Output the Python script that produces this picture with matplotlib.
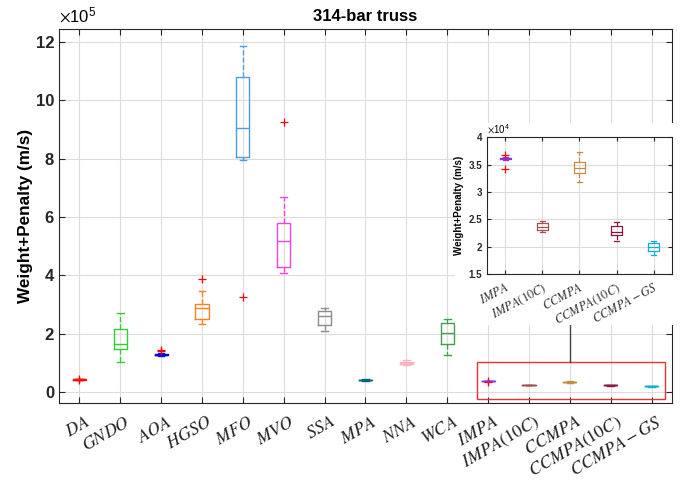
import numpy as np
import matplotlib.pyplot as plt
import matplotlib.transforms as mtransforms
from matplotlib.patches import Rectangle

plt.rcParams['font.family'] = 'Liberation Sans'
plt.rcParams['mathtext.fontset'] = 'stix'

# algorithm names (main plot) and the zoomed group
algos = ['DA', 'GNDO', 'AOA', 'HGSO', 'MFO', 'MVO', 'SSA', 'MPA', 'NNA', 'WCA',
         'IMPA', 'IMPA(10C)', 'CCMPA', 'CCMPA(10C)', 'CCMPA-GS']
zoom_algos = algos[10:]

# box statistics, weight+penalty
whislo = [0.40e5, 1.02e5, 1.22e5, 2.32e5, 7.95e5, 4.09e5, 2.10e5, 0.39e5, 0.92e5, 1.25e5,
          3.59e4, 2.27e4, 3.19e4, 2.10e4, 1.85e4]
q1 = [0.42e5, 1.47e5, 1.25e5, 2.49e5, 8.05e5, 4.27e5, 2.30e5, 0.40e5, 0.96e5, 1.66e5,
      3.60e4, 2.30e4, 3.34e4, 2.21e4, 1.92e4]
med = [0.43e5, 1.63e5, 1.27e5, 2.88e5, 9.07e5, 5.19e5, 2.61e5, 0.41e5, 1.00e5, 2.03e5,
       3.62e4, 2.36e4, 3.44e4, 2.27e4, 2.00e4]
q3 = [0.44e5, 2.15e5, 1.29e5, 3.02e5, 10.81e5, 5.78e5, 2.79e5, 0.42e5, 1.04e5, 2.38e5,
      3.63e4, 2.43e4, 3.54e4, 2.37e4, 2.06e4]
whishi = [0.46e5, 2.72e5, 1.32e5, 3.47e5, 11.86e5, 6.67e5, 2.87e5, 0.43e5, 1.08e5, 2.51e5,
          3.64e4, 2.47e4, 3.74e4, 2.45e4, 2.10e4]
fliers = [[0.41e5, 0.45e5], [], [1.44e5, 1.40e5], [3.86e5], [3.27e5], [9.27e5], [], [], [], [],
          [3.67e4, 3.415e4], [], [], [], []]

colors = ['#ff1010', '#33cc33', '#0a0ac8', '#ff8020', '#4d9ee6', '#ee44dd', '#8c8c8c',
          '#006680', '#ffb3c1', '#40a050', '#8833dd', '#a05050', '#c09040', '#8c1838', '#10b0d0']


def make_stats(idx, scale):
    out = []
    for i in idx:
        out.append(dict(med=med[i] / scale, q1=q1[i] / scale, q3=q3[i] / scale,
                        whislo=whislo[i] / scale, whishi=whishi[i] / scale,
                        fliers=np.array(fliers[i]) / scale))
    return out


def draw_boxes(ax, stats, cols, width, lw):
    bp = ax.bxp(stats, positions=np.arange(1, len(stats) + 1), widths=width,
                capwidths=width * 0.5, showfliers=True, patch_artist=False,
                whiskerprops=dict(linestyle='--', linewidth=lw),
                boxprops=dict(linewidth=lw), capprops=dict(linewidth=lw),
                medianprops=dict(linewidth=lw),
                flierprops=dict(marker='+', markeredgecolor='red', markersize=6,
                                linestyle='none', markeredgewidth=0.9))
    for i, c in enumerate(cols):
        bp['boxes'][i].set_color(c)
        bp['medians'][i].set_color(c)
        for k in (2 * i, 2 * i + 1):
            bp['whiskers'][k].set_color(c)
            bp['caps'][k].set_color(c)
    return bp


def style_axes(ax, size):
    for s in ax.spines.values():
        s.set_color('#262626')
        s.set_linewidth(0.8)
    ax.grid(True, color='#dcdcdc', linewidth=0.8)
    ax.set_axisbelow(True)
    ax.tick_params(direction='in', top=True, right=True, length=4, width=0.8,
                   colors='#262626')
    ax.tick_params(axis='y', labelsize=size)
    for t in ax.get_yticklabels():
        t.set_fontweight('bold')


def shift_labels(fig, labels, dx, dy):
    # nudge rotated tick labels by a few pixels
    off = mtransforms.ScaledTranslation(dx / fig.dpi, dy / fig.dpi, fig.dpi_scale_trans)
    for t in labels:
        t.set_transform(t.get_transform() + off)


fig = plt.figure(figsize=(6.81, 4.83), dpi=100)
ax = fig.add_axes([0.0866, 0.1656, 0.9002, 0.7744])

draw_boxes(ax, make_stats(range(len(algos)), 1e5), colors, 0.32, 1.0)
ax.set_xlim(0.5, len(algos) + 0.5)
ax.set_ylim(-0.38, 12.45)
ax.set_yticks(np.arange(0, 13, 2))
ax.set_xticks(np.arange(1, len(algos) + 1))
style_axes(ax, 12)
ax.set_xticklabels(['$' + a + '$' for a in algos], rotation=30, ha='right',
                   rotation_mode='anchor', fontsize=13, color='#222222')
ax.tick_params(axis='x', pad=6)
shift_labels(fig, ax.get_xticklabels(), 5, -2)
ax.set_title('314-bar truss', fontsize=12, fontweight='bold', pad=6)
ax.set_ylabel('Weight+Penalty (m/s)', fontsize=12.3, fontweight='bold', labelpad=2)
ax.text(0.0, 1.01, r'$\times\mathregular{10^5}$', transform=ax.transAxes,
        fontsize=12, va='bottom', ha='left')

# highlight around the improved variants and its pointer line
ax.add_patch(Rectangle((10.72, -0.24), 4.61, 1.28, fill=False, edgecolor='#ee3030',
                       linewidth=1.0, zorder=5))
ax.plot([13.0, 13.0], [1.04, 2.6], color='#444444', linewidth=1.0, zorder=5)

# white backing for the zoomed panel
fig.patches.append(Rectangle((0.668, 0.327), 0.332, 0.418, transform=fig.transFigure,
                             facecolor='white', edgecolor='none', zorder=1))

ax2 = fig.add_axes([0.7151, 0.4327, 0.2717, 0.2830])
ax2.set_zorder(2)
draw_boxes(ax2, make_stats(range(10, 15), 1e4), colors[10:], 0.29, 0.9)
ax2.set_xlim(0.5, 5.5)
ax2.set_ylim(1.5, 4.0)
ax2.set_yticks(np.arange(1.5, 4.01, 0.5))
ax2.set_yticklabels(['1.5', '2', '2.5', '3', '3.5', '4'])
ax2.set_xticks(np.arange(1, 6))
style_axes(ax2, 7)
ax2.set_xticklabels(['$' + a + '$' for a in zoom_algos], rotation=28, ha='right',
                    rotation_mode='anchor', fontsize=9, color='#333333')
ax2.tick_params(length=3)
ax2.tick_params(axis='x', pad=5)
ax2.set_ylabel('Weight+Penalty (m/s)', fontsize=7, fontweight='bold', labelpad=3)
ax2.text(0.0, 1.01, r'$\times\mathregular{10^4}$', transform=ax2.transAxes,
         fontsize=7, va='bottom', ha='left')

plt.savefig('out.png', dpi=100)
